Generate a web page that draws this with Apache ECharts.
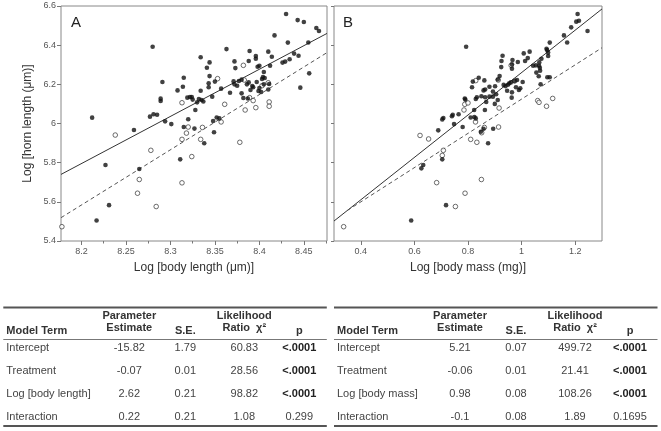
<!DOCTYPE html>
<html><head><meta charset="utf-8">
<script src="https://cdn.jsdelivr.net/npm/echarts@6/dist/echarts.min.js"></script>
<style>html,body{margin:0;padding:0;background:#fff}#c{width:661px;height:431px}</style>
</head><body><div id="c"></div>
<script>
// ---------- Panel A: Log body length vs Log horn length ----------
const xTicksA = [8.2, 8.25, 8.3, 8.35, 8.4, 8.45];
const xMinorA = [8.225, 8.275, 8.325, 8.375, 8.425, 8.475];
const xTicksB = [0.4, 0.6, 0.8, 1, 1.2];
const filledA = [
[8.212,6.030],[8.280,6.392],[8.259,5.967],[8.277,6.035],[8.281,6.047],[8.285,6.045],[8.289,6.127],[8.289,6.115],
[8.291,6.212],[8.294,6.011],[8.301,5.997],[8.308,6.169],[8.314,6.188],[8.315,6.234],[8.319,6.132],[8.322,6.135],
[8.324,6.135],[8.325,6.122],[8.320,6.022],[8.315,5.982],[8.327,5.974],[8.328,6.069],[8.330,6.108],[8.332,6.125],
[8.335,6.120],[8.337,6.112],[8.334,6.167],[8.334,6.338],[8.338,5.899],[8.341,6.285],[8.344,6.312],[8.343,6.205],
[8.343,6.185],[8.344,6.242],[8.347,6.137],[8.348,6.013],[8.350,6.214],[8.349,5.955],[8.352,6.031],[8.355,6.026],
[8.357,6.178],[8.363,6.380],[8.367,6.157],[8.371,6.215],[8.372,6.317],[8.373,6.283],[8.372,6.200],[8.375,6.193],
[8.377,6.217],[8.380,6.154],[8.380,6.224],[8.382,6.130],[8.386,6.200],[8.389,6.370],[8.388,6.319],[8.387,6.128],
[8.388,6.210],[8.390,6.171],[8.392,6.191],[8.393,6.185],[8.396,6.345],[8.396,6.331],[8.397,6.212],[8.398,6.290],
[8.399,6.166],[8.400,6.295],[8.400,6.181],[8.402,6.161],[8.403,6.227],[8.405,6.263],[8.404,6.237],[8.406,6.232],
[8.405,6.200],[8.410,6.367],[8.411,6.202],[8.410,6.174],[8.412,6.295],[8.414,6.341],[8.417,6.450],[8.426,6.311],
[8.430,6.559],[8.432,6.413],[8.429,6.316],[8.434,6.328],[8.439,6.357],[8.443,6.528],[8.444,6.346],[8.446,6.183],
[8.450,6.518],[8.455,6.414],[8.456,6.256],[8.464,6.488],[8.467,6.472],[8.227,5.788],[8.217,5.505],[8.231,5.583],
[8.265,5.768],[8.311,5.817]
];
const openA = [
[8.238,5.941],[8.278,5.863],[8.313,6.106],[8.313,5.919],[8.318,5.951],[8.320,5.982],[8.324,5.831],[8.334,5.919],
[8.336,5.980],[8.353,6.229],[8.357,6.008],[8.361,6.098],[8.378,5.904],[8.382,6.297],[8.383,6.222],[8.384,6.069],
[8.389,6.132],[8.393,6.117],[8.396,6.081],[8.403,6.193],[8.411,6.110],[8.411,6.088],[8.410,6.208],[8.178,5.473],
[8.265,5.714],[8.263,5.644],[8.284,5.576],[8.313,5.697]
];
const solidLineA = [[8.177,5.740],[8.476,6.460]];
const dashedLineA = [[8.177,5.519],[8.476,6.362]];

// ---------- Panel B: Log body mass vs Log horn length ----------
const filledB = [
[0.793,6.392],[1.209,6.559],[1.204,6.520],[1.214,6.525],[1.185,6.491],[1.246,6.472],[1.158,6.450],[1.170,6.414],
[1.105,6.413],[1.093,6.382],[1.095,6.375],[1.099,6.362],[1.099,6.345],[1.074,6.331],[1.066,6.312],[1.065,6.295],
[1.068,6.285],[1.053,6.297],[1.043,6.295],[1.030,6.367],[1.008,6.358],[1.023,6.334],[1.013,6.319],[0.986,6.314],
[0.966,6.324],[0.929,6.346],[0.925,6.319],[0.924,6.288],[0.964,6.302],[0.964,6.280],[1.055,6.260],[1.069,6.270],
[1.064,6.241],[1.096,6.236],[1.105,6.236],[1.071,6.200],[1.004,6.212],[0.983,6.222],[0.973,6.217],[0.960,6.210],
[0.954,6.205],[0.949,6.198],[0.933,6.197],[0.940,6.191],[0.979,6.185],[0.990,6.171],[0.995,6.180],[0.964,6.159],
[0.946,6.167],[0.918,6.242],[0.911,6.225],[0.901,6.190],[0.880,6.188],[0.893,6.163],[0.880,6.137],[0.893,6.137],
[0.864,6.134],[0.858,6.169],[0.864,6.174],[0.861,6.220],[0.840,6.234],[0.818,6.214],[0.815,6.185],[0.833,6.134],
[0.829,6.125],[0.850,6.139],[0.905,6.149],[0.911,6.120],[0.900,6.100],[0.868,6.110],[0.863,6.069],[0.963,6.132],
[0.823,6.069],[0.824,6.033],[0.829,6.026],[0.810,6.031],[0.788,6.128],[0.790,6.122],[0.765,6.047],[0.743,6.045],
[0.740,6.037],[0.708,6.028],[0.704,6.021],[0.748,5.997],[0.780,5.982],[0.689,5.965],[0.858,5.973],[0.848,5.958],
[0.875,5.899],[0.894,5.973],[0.704,5.817],[0.626,5.771],[0.633,5.788],[0.588,5.505],[0.718,5.583]
];
const openB = [
[0.621,5.939],[0.653,5.921],[0.708,5.863],[0.704,5.837],[0.785,6.069],[0.788,6.098],[0.800,6.105],[0.829,6.219],
[0.828,6.008],[0.861,5.980],[0.851,5.953],[0.810,5.919],[0.833,5.904],[0.914,5.982],[0.916,6.079],[0.913,6.222],
[0.961,6.297],[0.974,6.217],[1.060,6.117],[1.065,6.108],[1.093,6.088],[1.116,6.128],[0.683,5.698],[0.850,5.714],
[0.789,5.644],[0.753,5.576],[0.336,5.473]
];
const solidLineB = [[0.3,5.502],[1.3,6.585]];
const dashedLineB = [[0.35,5.556],[1.3,6.387]];

// ---------- Tables ----------
const headLine1 = ['', 'Parameter', '', 'Likelihood', ''];
const headLine2 = ['Model Term', 'Estimate', 'S.E.', 'Ratio  χ²', 'p'];
const termsA = ['Intercept', 'Treatment', 'Log [body length]', 'Interaction'];
const estA = ['-15.82', '-0.07', '2.62', '0.22'];
const seA = ['1.79', '0.01', '0.21', '0.21'];
const chiA = ['60.83', '28.56', '98.82', '1.08'];
const pA = ['<.0001', '<.0001', '<.0001', '0.299'];
const termsB = ['Intercept', 'Treatment', 'Log [body mass]', 'Interaction'];
const estB = ['5.21', '-0.06', '0.98', '-0.1'];
const seB = ['0.07', '0.01', '0.08', '0.08'];
const chiB = ['499.72', '21.41', '108.26', '1.89'];
const pB = ['<.0001', '<.0001', '<.0001', '0.1695'];

const FONT = '"Liberation Sans", Arial, sans-serif';
const colX = [3, 126, 182, 241, 296];
const rowY = [348, 371, 394, 417];

function buildTable(x0, terms, est, se, chi, p) {
  const els = [];
  const W = 323.5;
  els.push({type:'line', shape:{x1:x0, y1:307.5, x2:x0+W, y2:307.5}, style:{stroke:'#555', lineWidth:2}});
  els.push({type:'line', shape:{x1:x0, y1:339.5, x2:x0+W, y2:339.5}, style:{stroke:'#777', lineWidth:1}});
  els.push({type:'line', shape:{x1:x0, y1:426, x2:x0+W, y2:426}, style:{stroke:'#555', lineWidth:2}});
  for (let c = 0; c < 5; c++) {
    const align = c === 0 ? 'left' : 'center';
    const twoLine = headLine1[c] !== '';
    if (twoLine) {
      els.push({type:'text', style:{x:x0+colX[c], y:316, text:headLine1[c], textAlign:align, textVerticalAlign:'middle', font:'bold 11px ' + FONT, fill:'#333'}});
    }
    els.push({type:'text', style:{x:x0+colX[c], y: twoLine ? 327.5 : 331, text:headLine2[c], textAlign:align, textVerticalAlign:'middle', font:'bold 11px ' + FONT, fill:'#333'}});
  }
  const cols = [terms, est, se, chi, p];
  for (let r = 0; r < terms.length; r++) {
    for (let c = 0; c < 5; c++) {
      const v = cols[c][r];
      const bold = c === 4 && v === '<.0001';
      els.push({type:'text', style:{x:x0+colX[c], y:rowY[r], text:v, textAlign: c === 0 ? 'left' : 'center', textVerticalAlign:'middle', font:(bold ? 'bold ' : '') + '11px ' + FONT, fill: bold ? '#222' : '#444'}});
    }
  }
  return els;
}

const chart = echarts.init(document.getElementById('c'), null, {renderer:'canvas'});
const axisLabelStyle = {color:'#555', fontSize:9, fontFamily:FONT, margin:6};
const nameStyle = {color:'#333', fontSize:12, fontFamily:FONT};
const tickStyle = {lineStyle:{color:'#777', width:1}};

function scatter(data, xi, open) {
  return {
    type:'scatter', xAxisIndex:xi, yAxisIndex: xi === 2 ? 1 : 0, data:data,
    symbol:'circle', symbolSize: open ? 4.6 : 4.6, silent:true,
    itemStyle: open ? {color:'#fff', borderColor:'#333', borderWidth:0.9} : {color:'#111', borderWidth:0},
    z: open ? 3 : 4
  };
}
function line(data, xi, dashed) {
  return {
    type:'line', xAxisIndex:xi, yAxisIndex: xi === 2 ? 1 : 0, data:data, showSymbol:false, silent:true,
    lineStyle:{color: dashed ? '#555' : '#333', width:1, type: dashed ? [4,3] : 'solid'}, z:2
  };
}

chart.setOption({
  animation:false,
  backgroundColor:'#fff',
  grid:[
    {left:61, top:6, width:266, height:235, show:true, borderColor:'#888', borderWidth:1, backgroundColor:'transparent'},
    {left:334, top:6, width:268, height:235, show:true, borderColor:'#888', borderWidth:1, backgroundColor:'transparent'}
  ],
  xAxis:[
    {type:'value', gridIndex:0, min:8.177, max:8.476, position:'bottom',
     name:'Log [body length (μm)]', nameLocation:'middle', nameGap:21, nameTextStyle:nameStyle,
     axisLine:{show:false}, splitLine:{show:false},
     axisTick:{show:true, length:4, customValues:xTicksA, ...tickStyle},
     axisLabel:{...axisLabelStyle, customValues:xTicksA, formatter:v => String(+v.toFixed(2))}},
    {type:'value', gridIndex:0, min:8.177, max:8.476, position:'bottom',
     axisLine:{show:false}, splitLine:{show:false}, axisLabel:{show:false},
     axisTick:{show:true, length:2.5, customValues:xMinorA, ...tickStyle}},
    {type:'value', gridIndex:1, min:0.3, max:1.3, position:'bottom',
     name:'Log [body mass (mg)]', nameLocation:'middle', nameGap:21, nameTextStyle:nameStyle,
     axisLine:{show:false}, splitLine:{show:false},
     axisTick:{show:true, length:4, customValues:xTicksB, ...tickStyle},
     axisLabel:{...axisLabelStyle, customValues:xTicksB, formatter:v => String(+v.toFixed(2))}}
  ],
  yAxis:[
    {type:'value', gridIndex:0, min:5.4, max:6.6, interval:0.2,
     name:'Log [horn length (μm)]', nameLocation:'middle', nameGap:27, nameRotate:90, nameTextStyle:nameStyle,
     axisLine:{show:false}, splitLine:{show:false},
     axisTick:{show:true, length:4, ...tickStyle},
     axisLabel:{...axisLabelStyle, margin:5, formatter:v => String(+v.toFixed(1))}},
    {type:'value', gridIndex:1, min:5.4, max:6.6, interval:0.2,
     axisLine:{show:false}, splitLine:{show:false},
     axisTick:{show:true, length:3, ...tickStyle},
     axisLabel:{show:false}}
  ],
  series:[
    line(solidLineA, 0, false), line(dashedLineA, 0, true),
    scatter(openA, 0, true), scatter(filledA, 0, false),
    line(solidLineB, 2, false), line(dashedLineB, 2, true),
    scatter(openB, 2, true), scatter(filledB, 2, false)
  ],
  graphic:[
    {type:'text', style:{x:71, y:23, text:'A', textVerticalAlign:'middle', font:'15px ' + FONT, fill:'#222'}},
    {type:'text', style:{x:343, y:23, text:'B', textVerticalAlign:'middle', font:'15px ' + FONT, fill:'#222'}},
    ...buildTable(3.3, termsA, estA, seA, chiA, pA),
    ...buildTable(334, termsB, estB, seB, chiB, pB)
  ]
});
</script>
</body></html>
